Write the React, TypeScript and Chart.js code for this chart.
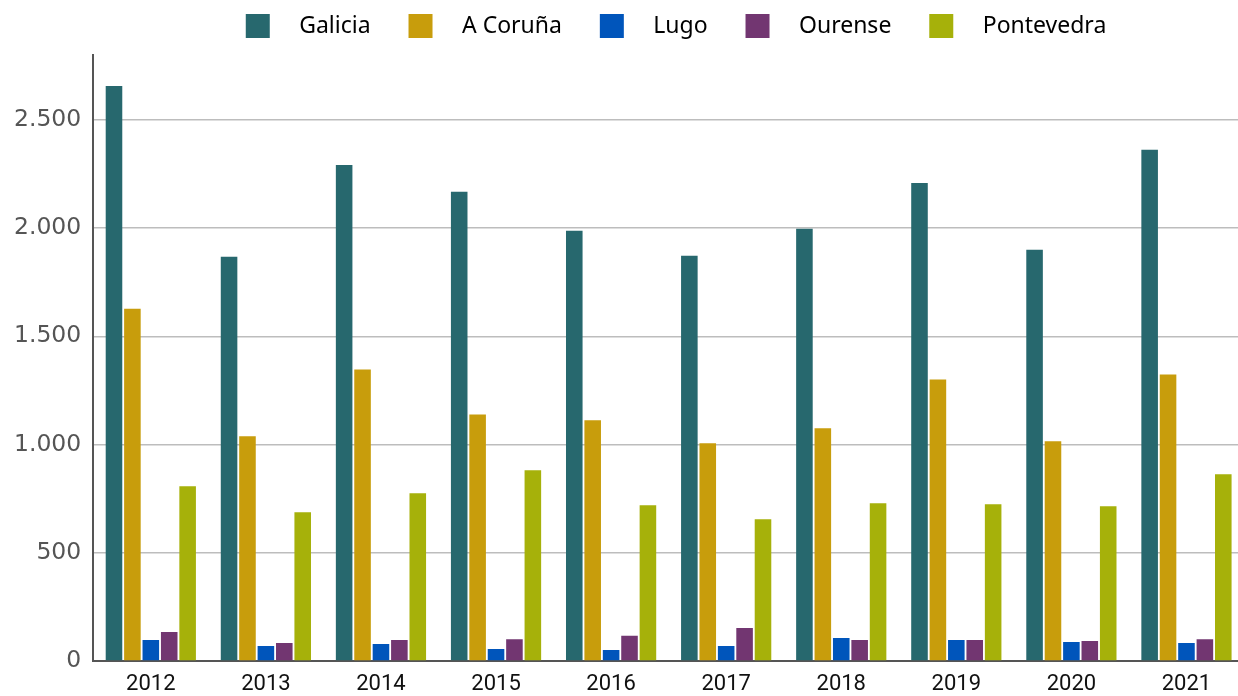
import React, { useEffect, useRef } from "react";
import { Chart, registerables } from "chart.js";

Chart.register(...registerables);

const years = ["2012", "2013", "2014", "2015", "2016", "2017", "2018", "2019", "2020", "2021"];
const seriesNames = ["Galicia", "A Coruña", "Lugo", "Ourense", "Pontevedra"];
const galicia = [2657, 1868, 2292, 2168, 1988, 1873, 1997, 2209, 1900, 2362];
const aCoruna = [1628, 1038, 1347, 1139, 1112, 1006, 1075, 1301, 1015, 1324];
const lugo = [97, 69, 78, 55, 51, 69, 106, 97, 88, 83];
const ourense = [134, 83, 97, 101, 117, 152, 97, 97, 92, 101];
const pontevedra = [807, 687, 775, 881, 720, 655, 729, 724, 715, 863];
const colors = ["#27686e", "#c89d0c", "#0055bb", "#723671", "#a6b10a"];
const yTickValues = [0, 500, 1000, 1500, 2000, 2500];

const fmt = (v: number) => v.toLocaleString("de-DE");

const LEGEND_SHIFT = 65;
const LEGEND_HEIGHT = 55;
const X_AXIS_HEIGHT = 35;

const legendTweak = {
  id: "legendTweak",
  beforeLayout(chart: any) {
    const l = chart.legend;
    if (l && !l._patched) {
      const orig = l.fit.bind(l);
      l.fit = function () {
        orig();
        this.height = LEGEND_HEIGHT;
      };
      l._patched = true;
    }
  },
  afterLayout(chart: any) {
    const l = chart.legend;
    if (l) {
      l.left += LEGEND_SHIFT;
      l.right += LEGEND_SHIFT;
    }
  },
};

export default function App() {
  const ref = useRef<HTMLCanvasElement | null>(null);
  useEffect(() => {
    document.body.style.margin = "0";
    const values = [galicia, aCoruna, lugo, ourense, pontevedra];
    const chart = new Chart(ref.current!, {
      type: "bar",
      data: {
        labels: years,
        datasets: seriesNames.map((name, i) => ({
          label: name,
          data: values[i],
          backgroundColor: colors[i],
          borderWidth: 0,
          categoryPercentage: 0.8,
          barPercentage: 0.9,
        })),
      },
      plugins: [legendTweak],
      options: {
        animation: false,
        responsive: false,
        maintainAspectRatio: false,
        layout: { padding: { top: 0, left: 2, right: 0, bottom: 0 } },
        plugins: {
          tooltip: { enabled: false },
          legend: {
            position: "top",
            labels: {
              boxWidth: 24,
              boxHeight: 24,
              padding: 14,
              color: "#111",
              font: { family: "Noto Sans", size: 23 },
              generateLabels: (c: any) =>
                c.data.datasets.map((ds: any, i: number) => ({
                  text: "   " + ds.label + "    ",
                  fillStyle: colors[i],
                  strokeStyle: colors[i],
                  lineWidth: 0,
                  hidden: false,
                  datasetIndex: i,
                })),
            },
          },
        },
        scales: {
          x: {
            grid: { display: false, drawTicks: false },
            border: { color: "#555", width: 2 },
            afterFit: (s: any) => {
              s.height = X_AXIS_HEIGHT;
            },
            ticks: {
              color: "#111",
              font: { family: "Roboto", size: 22 },
              padding: 10,
            },
          },
          y: {
            min: 0,
            max: 2800,
            afterBuildTicks: (scale: any) => {
              scale.ticks = yTickValues.map((v) => ({ value: v }));
            },
            grid: { color: "#bdbdbd", lineWidth: 1.5, drawTicks: false },
            border: { color: "#555", width: 2 },
            ticks: {
              color: "#555",
              font: { family: "DejaVu Sans", size: 23.5 },
              padding: 12,
              callback: (v: any) => fmt(Number(v)),
            },
          },
        },
      },
    });
    return () => chart.destroy();
  }, []);
  return (
    <div style={{ width: 1238, height: 696, overflow: "hidden" }}>
      <canvas ref={ref} width={1244} height={696} style={{ display: "block" }} />
    </div>
  );
}
